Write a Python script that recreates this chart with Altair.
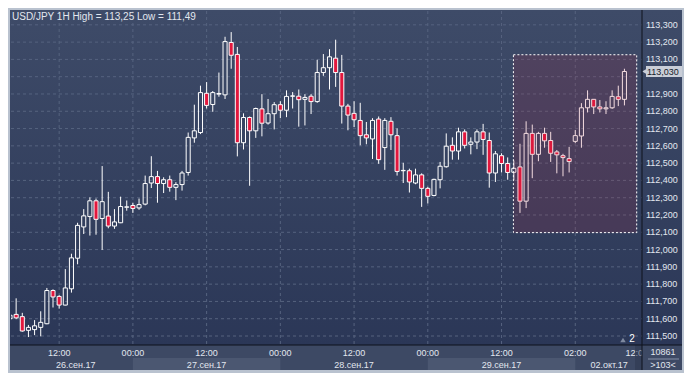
import altair as alt
import pandas as pd

# ---------------- data ----------------
title_text = "USD/JPY 1H High = 113,25 Low = 111,49"

opens = [111.600, 111.625, 111.612, 111.533, 111.537, 111.550, 111.571, 111.763, 111.729, 111.679,
         111.773, 111.950, 112.131, 112.191, 112.282, 112.180, 112.194, 112.136, 112.155, 112.245,
         112.255, 112.241, 112.263, 112.385, 112.422, 112.382, 112.404, 112.360, 112.376, 112.446,
         112.646, 112.677, 112.904, 112.839, 112.899, 112.895, 113.198, 113.129, 112.618, 112.764,
         112.687, 112.814, 112.732, 112.786, 112.838, 112.806, 112.887, 112.887, 112.869, 112.887,
         112.856, 113.024, 113.052, 113.107, 113.024, 112.830, 112.788, 112.747, 112.664, 112.640,
         112.755, 112.590, 112.742, 112.659, 112.456, 112.456, 112.385, 112.432, 112.354, 112.313,
         112.404, 112.479, 112.603, 112.570, 112.681, 112.609, 112.622, 112.681, 112.631, 112.443,
         112.543, 112.498, 112.447, 112.478, 112.280, 112.672, 112.551, 112.672, 112.631, 112.565,
         112.543, 112.526, 112.626, 112.657, 112.820, 112.869, 112.825, 112.814, 112.820, 112.884,
         112.869]
highs = [111.622, 111.718, 111.634, 111.564, 111.592, 111.643, 111.778, 111.770, 111.736, 111.887,
         111.976, 112.155, 112.234, 112.302, 112.295, 112.483, 112.334, 112.234, 112.306, 112.284,
         112.271, 112.295, 112.428, 112.540, 112.455, 112.418, 112.428, 112.390, 112.455, 112.677,
         112.838, 112.948, 112.969, 112.917, 113.024, 113.231, 113.258, 113.172, 112.788, 112.770,
         112.821, 112.899, 112.871, 112.853, 112.858, 112.921, 112.911, 112.926, 112.899, 112.899,
         113.098, 113.131, 113.159, 113.214, 113.126, 112.843, 112.858, 112.849, 112.738, 112.760,
         112.770, 112.760, 112.766, 112.701, 112.502, 112.468, 112.468, 112.441, 112.363, 112.410,
         112.507, 112.672, 112.649, 112.705, 112.695, 112.649, 112.695, 112.727, 112.677, 112.570,
         112.557, 112.533, 112.515, 112.612, 112.742, 112.723, 112.681, 112.705, 112.681, 112.576,
         112.554, 112.594, 112.692, 112.847, 112.921, 112.871, 112.865, 112.858, 112.921, 112.948,
         113.046]
lows = [111.598, 111.597, 111.525, 111.494, 111.505, 111.498, 111.568, 111.665, 111.658, 111.677,
        111.751, 111.915, 112.090, 112.081, 112.086, 111.998, 112.123, 112.120, 112.153, 112.225,
        112.212, 112.230, 112.256, 112.356, 112.271, 112.327, 112.335, 112.286, 112.341, 112.428,
        112.618, 112.668, 112.816, 112.797, 112.884, 112.871, 113.046, 112.539, 112.579, 112.369,
        112.646, 112.655, 112.723, 112.695, 112.760, 112.766, 112.816, 112.711, 112.718, 112.784,
        112.849, 113.005, 112.926, 112.941, 112.729, 112.690, 112.709, 112.603, 112.609, 112.524,
        112.496, 112.461, 112.576, 112.428, 112.385, 112.330, 112.378, 112.247, 112.267, 112.308,
        112.354, 112.474, 112.520, 112.520, 112.585, 112.551, 112.581, 112.548, 112.358, 112.391,
        112.446, 112.404, 112.400, 112.212, 112.240, 112.413, 112.511, 112.589, 112.507, 112.441,
        112.424, 112.446, 112.616, 112.589, 112.793, 112.784, 112.793, 112.784, 112.814, 112.830,
        112.834]
closes = [111.620, 111.605, 111.529, 111.550, 111.559, 111.579, 111.763, 111.726, 111.679, 111.778,
          111.952, 112.140, 112.195, 112.282, 112.175, 112.277, 112.136, 112.160, 112.249, 112.247,
          112.238, 112.260, 112.382, 112.422, 112.382, 112.404, 112.360, 112.376, 112.443, 112.649,
          112.687, 112.908, 112.834, 112.908, 112.903, 113.203, 113.124, 112.618, 112.764, 112.687,
          112.816, 112.731, 112.786, 112.838, 112.806, 112.886, 112.889, 112.867, 112.880, 112.856,
          113.024, 113.052, 113.115, 113.024, 112.830, 112.778, 112.751, 112.659, 112.646, 112.747,
          112.520, 112.747, 112.664, 112.452, 112.458, 112.391, 112.432, 112.354, 112.308, 112.406,
          112.482, 112.598, 112.570, 112.681, 112.603, 112.622, 112.681, 112.637, 112.443, 112.554,
          112.498, 112.446, 112.470, 112.280, 112.672, 112.551, 112.672, 112.629, 112.557, 112.548,
          112.532, 112.509, 112.659, 112.820, 112.869, 112.825, 112.814, 112.820, 112.886, 112.869,
          113.030]

price_ticks = [111.5, 111.6, 111.7, 111.8, 111.9, 112.0, 112.1, 112.2, 112.3, 112.4,
               112.5, 112.6, 112.7, 112.8, 112.9, 113.0, 113.1, 113.2, 113.3]
grid_bars = [8, 20, 32, 44, 56, 68, 80, 92]
time_pos = [8, 20, 32, 44, 56, 68, 80, 92, 102]
time_labels = ["12:00", "00:00", "12:00", "00:00", "12:00", "00:00", "12:00", "02:00", "12:00"]
day_start = [20, 68]
day_end = [44, 92]
date_pos = [10.7, 32, 56, 80, 97.5]
date_labels = ["26.сен.17", "27.сен.17", "28.сен.17", "29.сен.17", "02.окт.17"]
box_x = [81.93, 102.0]
box_y = [112.098, 113.127]
last_price = 113.030
last_label = "113,030"
bars_total = "10861"
bars_shown = ">103<"
marker_text = "2"

# ---------------- layout ----------------
W, H = 631, 334
FONT = "Liberation Sans"
TXT = "#e2e7ef"

XS = alt.Scale(domain=[0.162, 102.86], nice=False, zero=False)
YS = alt.Scale(domain=[111.448, 113.38], nice=False, zero=False)


def X(f):
    return alt.X(f, type="quantitative", scale=XS, axis=None)


def Y(f):
    return alt.Y(f, type="quantitative", scale=YS, axis=None)


one = pd.DataFrame({"k": [0]})


def prect(x1, x2, y1, y2, **kw):
    return alt.Chart(one).mark_rect(**kw).encode(
        x=alt.value(x1), x2=alt.value(x2), y=alt.value(y1), y2=alt.value(y2))


def ptext(x, y, s, **kw):
    return alt.Chart(one).mark_text(font=FONT, **kw).encode(
        x=alt.value(x), y=alt.value(y), text=alt.value(s))


grad = alt.Gradient(gradient="linear",
                    stops=[alt.GradientStop(offset=0, color="#3e4b68"),
                           alt.GradientStop(offset=1, color="#2b3757")],
                    x1=0, x2=0, y1=0, y2=1)

bg = prect(-1, W + 40, -1, H, fill=grad)
band = prect(-1, W + 40, H, H + 25, fill="#3d4964")

days = pd.DataFrame({"s": day_start, "e": day_end})
day_light = alt.Chart(days).mark_rect(fill="#4b5771").encode(
    x=X("s"), x2="e", y=alt.value(H + 13), y2=alt.value(H + 25))

ticks_df = pd.DataFrame({"v": price_ticks,
                         "lab": [f"{v:.3f}".replace(".", ",") for v in price_ticks]})
hgrid = alt.Chart(ticks_df).mark_rule(color="#56637f", strokeDash=[3, 3], strokeWidth=1).encode(
    y=Y("v"), x=alt.value(0), x2=alt.value(W))
vgrid = alt.Chart(pd.DataFrame({"p": grid_bars})).mark_rule(
    color="#56637f", strokeDash=[3, 3], strokeWidth=1).encode(
    x=X("p"), y=alt.value(0), y2=alt.value(H))

df = pd.DataFrame({"i": list(range(len(opens))), "o": opens, "h": highs, "l": lows, "c": closes})
cb = alt.Chart(df).transform_calculate(
    top="max(datum.o, datum.c)", bot="min(datum.o, datum.c)",
    x0="datum.i - 0.33", x1="datum.i + 0.33")
wick_up = cb.mark_rule(color="#ffffff", strokeWidth=1, clip=True).encode(
    x=X("i"), y=Y("h"), y2="top:Q")
wick_dn = cb.mark_rule(color="#ffffff", strokeWidth=1, clip=True).encode(
    x=X("i"), y=Y("bot"), y2="l:Q")
body_up = cb.transform_filter("datum.c >= datum.o").mark_rect(
    fill="#000000", fillOpacity=0, stroke="#ffffff", strokeWidth=1, clip=True).encode(
    x=X("x0"), x2="x1:Q", y=Y("o"), y2="c:Q")
body_dn = cb.transform_filter("datum.c < datum.o").mark_rect(
    fill="#e2173d", stroke="#ffffff", strokeWidth=1, clip=True).encode(
    x=X("x0"), x2="x1:Q", y=Y("o"), y2="c:Q")

hl = pd.DataFrame({"x0": [box_x[0]], "x1": [box_x[1]], "y0": [box_y[0]], "y1": [box_y[1]]})
hl_fill = alt.Chart(hl).mark_rect(fill="#bc233e", fillOpacity=0.16).encode(
    x=X("x0"), x2="x1:Q", y=Y("y0"), y2="y1:Q")
hl_border = alt.Chart(hl).mark_rect(fill="#000000", fillOpacity=0, stroke="#ffffff",
                                    strokeWidth=1, strokeDash=[2, 2]).encode(
    x=X("x0"), x2="x1:Q", y=Y("y0"), y2="y1:Q")

title = ptext(1, 9, title_text, align="left", baseline="alphabetic", fontSize=10, color=TXT)

# the label under the last-price box is hidden in the reference
ylabels = alt.Chart(ticks_df).transform_filter(
    f"abs(datum.v - {last_price}) > 0.05").mark_text(
    font=FONT, fontSize=9, color=TXT, align="left", baseline="middle").encode(
    x=alt.value(W + 4), y=Y("v"), text="lab:N")

lp = pd.DataFrame({"v": [last_price], "lab": [last_label]})
lp_box = alt.Chart(lp).mark_rect(fill="#c9ced8", yOffset=-5.5, y2Offset=5.5).encode(
    x=alt.value(W + 4), x2=alt.value(W + 40), y=Y("v"), y2="v:Q")
lp_tri = alt.Chart(lp).mark_point(shape="triangle-left", filled=True, size=28, opacity=1,
                                  color="#c9ced8").encode(x=alt.value(W + 2.5), y=Y("v"))
lp_txt = alt.Chart(lp).mark_text(font=FONT, fontSize=9, color="#151b29", align="left",
                                 baseline="middle").encode(
    x=alt.value(W + 5), y=Y("v"), text="lab:N")

tl = pd.DataFrame({"p": time_pos, "lab": time_labels})
tlabels = alt.Chart(tl).mark_text(font=FONT, fontSize=9, color=TXT, baseline="middle").encode(
    x=X("p"), y=alt.value(H + 8), text="lab:N")
dl = pd.DataFrame({"p": date_pos, "lab": date_labels})
dlabels = alt.Chart(dl).mark_text(font=FONT, fontSize=9, color=TXT, baseline="middle").encode(
    x=X("p"), y=alt.value(H + 19.5), text="lab:N")

strip = prect(W - 7, W, H, H + 25, fill="#2a344a", opacity=0.45)
right_low = prect(W, W + 40, H, H + 25, fill="#3d4964")
vline = alt.Chart(one).mark_rule(color="#0e131d", strokeWidth=1).encode(
    x=alt.value(W), y=alt.value(-1), y2=alt.value(H + 25))
hline = alt.Chart(one).mark_rule(color="#0e131d", strokeWidth=1).encode(
    y=alt.value(H), x=alt.value(-1), x2=alt.value(W + 40))
sep = alt.Chart(one).mark_rule(color="#8792a8", strokeWidth=1).encode(
    y=alt.value(H + 14), x=alt.value(W + 6), x2=alt.value(W + 37))
cnt1 = ptext(W + 21, H + 7, bars_total, fontSize=9, color=TXT, baseline="middle")
cnt2 = ptext(W + 21, H + 20, bars_shown, fontSize=9, color=TXT, baseline="middle")
mark2 = ptext(W - 10, H - 6, marker_text, fontSize=10, color="#ffffff", baseline="middle")
tri2 = alt.Chart(one).mark_point(shape="triangle-up", filled=True, size=30, opacity=1,
                                 color="#7f8aa0").encode(x=alt.value(W - 19), y=alt.value(H - 5))

chart = alt.layer(
    bg, band, day_light, hgrid, vgrid,
    wick_up, wick_dn, body_up, body_dn,
    hl_fill, hl_border, title, mark2, tri2,
    tlabels, dlabels, strip, right_low,
    ylabels, lp_box, lp_tri, lp_txt,
    vline, hline, sep, cnt1, cnt2,
).properties(
    width=W, height=H,
    padding={"left": 3, "top": 3, "right": 42, "bottom": 28},
    autosize=alt.AutoSizeParams(type="none"),
    background="#b9c2cf",
).configure_view(stroke=None)

chart.save("out.html", embed_options={"renderer": "svg", "actions": False})
